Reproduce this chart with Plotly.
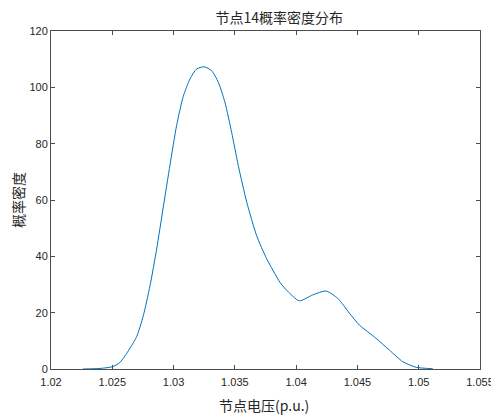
import plotly.graph_objects as go

voltage = [1.0226, 1.0240, 1.0250, 1.0256, 1.02617, 1.02699, 1.02753, 1.02808, 1.02862, 1.02916,
           1.02971, 1.03025, 1.03079, 1.03134, 1.03188, 1.03248, 1.03311, 1.03365, 1.03419,
           1.03474, 1.03528, 1.03597, 1.03678, 1.03760, 1.03868, 1.03917, 1.04026, 1.04135,
           1.04244, 1.04339, 1.04435, 1.04516, 1.04652, 1.04761, 1.0487, 1.04979, 1.05115]
density = [0.0, 0.2, 0.8, 2.2, 5.5, 11.5, 18.9, 29.6, 42.6, 57.5,
           72.5, 86.5, 96.8, 103.0, 106.5, 107.3, 105.9, 101.8, 94.7,
           84.0, 72.2, 59.2, 47.3, 39.1, 30.8, 28.2, 24.2, 26.3,
           27.7, 25.1, 19.8, 15.6, 10.9, 6.7, 2.6, 0.6, 0.1]

x_ticks = [1.02, 1.025, 1.03, 1.035, 1.04, 1.045, 1.05, 1.055]
x_tick_text = ["1.02", "1.025", "1.03", "1.035", "1.04", "1.045", "1.05", "1.055"]
y_ticks = [0, 20, 40, 60, 80, 100, 120]

title_text = "节点14概率密度分布"
x_label = "节点电压(p.u.)"
y_label = "概率密度"

num_font = "Liberation Sans, Arial, sans-serif"
cjk_font = "Noto Sans CJK SC, sans-serif"
axis_color = "#4d4d4d"
text_color = "#262626"

fig = go.Figure()
fig.add_trace(go.Scatter(
    x=voltage, y=density, mode="lines",
    line=dict(color="#0072BD", width=1, shape="spline", smoothing=0.6),
    showlegend=False, hoverinfo="skip",
))

axis_common = dict(
    showgrid=False, zeroline=False, showline=True, linecolor=axis_color, linewidth=1,
    mirror="ticks", ticks="inside", ticklen=4, tickcolor=axis_color, tickwidth=1,
    tickfont=dict(family=num_font, size=11, color=text_color), automargin=False,
)

# the page body adds an 8px offset, so the figure is sized to fit the 499x415 window
fig.update_layout(
    width=491, height=407,
    margin=dict(l=43, r=19, t=23, b=46),
    paper_bgcolor="white", plot_bgcolor="white",
    title=dict(text=title_text, x=0.532, xanchor="center", y=1 - 10 / 407, yanchor="middle",
               xref="paper", yref="container",
               font=dict(family=cjk_font, size=14, color=text_color)),
    xaxis=dict(range=[1.02, 1.055], tickvals=x_ticks, ticktext=x_tick_text,
               ticklabelstandoff=3, **axis_common),
    yaxis=dict(range=[0, 120], tickvals=y_ticks, **axis_common),
    annotations=[
        dict(text=x_label, xref="paper", yref="paper", x=0.5, y=0, xshift=-2, yshift=-36,
             xanchor="center", yanchor="middle", showarrow=False,
             font=dict(family=cjk_font, size=14, color=text_color)),
        dict(text=y_label, xref="paper", yref="paper", x=0, y=0.5, xshift=-33,
             xanchor="center", yanchor="middle", textangle=-90, showarrow=False,
             font=dict(family=cjk_font, size=14, color=text_color)),
    ],
)

fig.write_html("out.html")
